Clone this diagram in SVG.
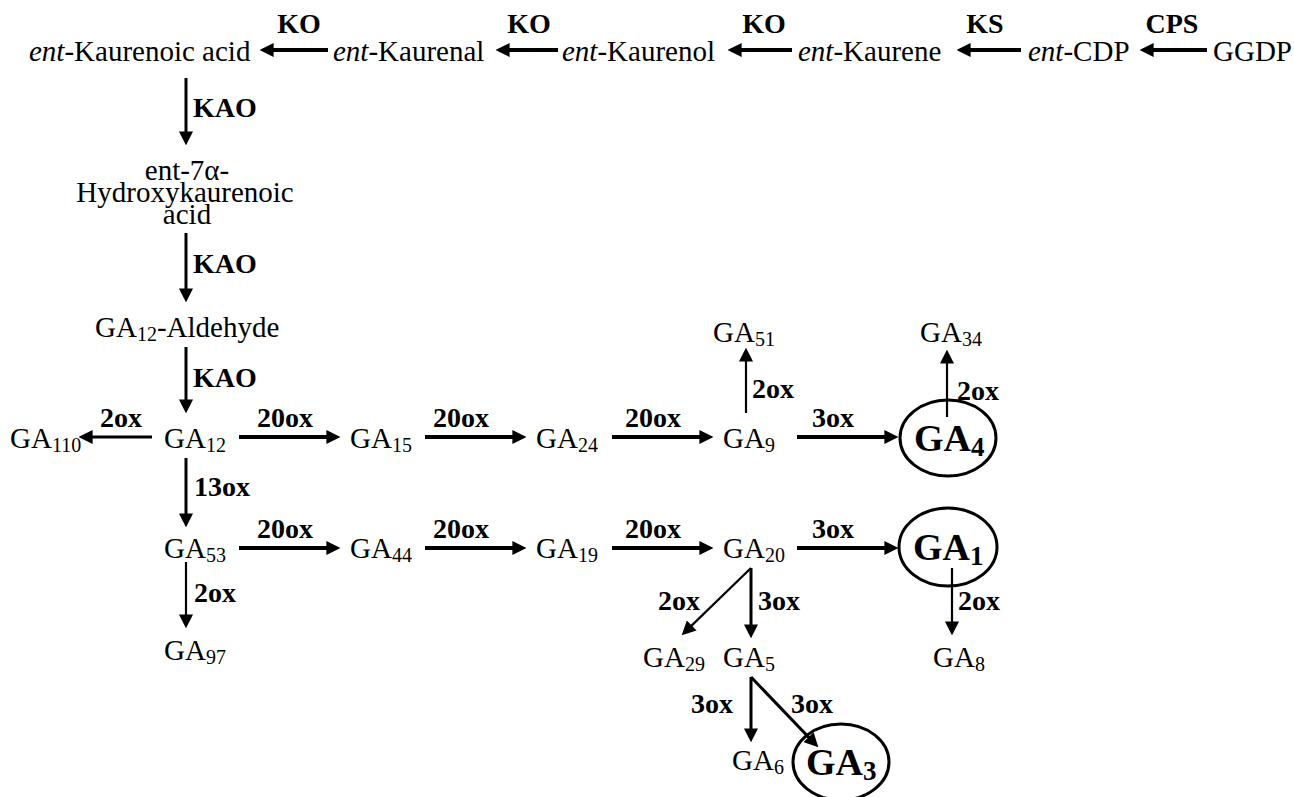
<svg xmlns="http://www.w3.org/2000/svg" width="1294" height="797" viewBox="0 0 1294 797">
  <style>
    text { font-family: "Liberation Serif", "Times New Roman", Times, "Nimbus Roman", "DejaVu Serif", serif; font-weight: normal; fill: #000; }
    .n { font-size: 29px; }
    .e { font-size: 28px; font-weight: bold; }
    .k { font-size: 38px; font-weight: bold; }
    .sub { font-size: 20px; }
    .ksub { font-size: 27px; }
    .ring { fill: none; stroke: #000; stroke-width: 3; }
    .a4 { stroke: #000; stroke-width: 4; fill: none; marker-end: url(#head); }
    .a3 { stroke: #000; stroke-width: 3; fill: none; marker-end: url(#head); }
    .a2 { stroke: #000; stroke-width: 2.2; fill: none; marker-end: url(#head); }
  </style>
  <defs>
    <marker id="head" viewBox="0 0 10 10" refX="4" refY="5" markerUnits="userSpaceOnUse" markerWidth="14" markerHeight="14" orient="auto">
      <path d="M0,0 L10,5 L0,10 z" fill="#000"/>
    </marker>
  </defs>

  <!-- reaction arrows -->
  <g id="connectors">
    <!-- upper chain, right to left -->
    <line class="a4" x1="328" y1="50" x2="268" y2="50"/>
    <line class="a4" x1="558" y1="50" x2="504" y2="50"/>
    <line class="a4" x1="792" y1="50" x2="736" y2="50"/>
    <line class="a4" x1="1021" y1="50" x2="965" y2="50"/>
    <line class="a4" x1="1207" y1="50" x2="1148" y2="50"/>
    <!-- KAO steps -->
    <line class="a3" x1="186" y1="78" x2="186" y2="137"/>
    <line class="a3" x1="186" y1="233" x2="186" y2="294"/>
    <line class="a3" x1="186" y1="347" x2="186" y2="405"/>
    <!-- non-13-hydroxylation row -->
    <line class="a3" x1="152" y1="437" x2="87" y2="437"/>
    <line class="a4" x1="239" y1="437" x2="332" y2="437"/>
    <line class="a4" x1="425" y1="437" x2="518" y2="437"/>
    <line class="a4" x1="612" y1="437" x2="705" y2="437"/>
    <line class="a4" x1="797" y1="437" x2="890" y2="437"/>
    <line class="a2" x1="746" y1="413" x2="746" y2="356"/>
    <line class="a2" x1="947" y1="417" x2="947" y2="358"/>
    <!-- 13-hydroxylation -->
    <line class="a3" x1="186" y1="458" x2="186" y2="519"/>
    <!-- early 13-hydroxylation row -->
    <line class="a4" x1="239" y1="548" x2="332" y2="548"/>
    <line class="a4" x1="425" y1="548" x2="518" y2="548"/>
    <line class="a4" x1="612" y1="548" x2="705" y2="548"/>
    <line class="a4" x1="797" y1="548" x2="890" y2="548"/>
    <line class="a2" x1="186" y1="562" x2="186" y2="620"/>
    <line class="a2" x1="751" y1="568" x2="687.7" y2="629.4"/>
    <line class="a3" x1="751" y1="568" x2="751" y2="630"/>
    <line class="a2" x1="952" y1="568" x2="952" y2="627"/>
    <line class="a3" x1="751" y1="677" x2="751" y2="734"/>
    <line class="a3" x1="751" y1="677" x2="812.5" y2="741.2"/>
  </g>

  <!-- enzyme labels -->
  <g id="enzymes">
    <text class="e" x="299" y="33" text-anchor="middle">KO</text>
    <text class="e" x="529" y="33" text-anchor="middle">KO</text>
    <text class="e" x="764" y="33" text-anchor="middle">KO</text>
    <text class="e" x="985" y="33" text-anchor="middle">KS</text>
    <text class="e" x="1172" y="33" text-anchor="middle">CPS</text>
    <text class="e" x="193" y="117">KAO</text>
    <text class="e" x="193" y="273">KAO</text>
    <text class="e" x="193" y="387">KAO</text>
    <text class="e" x="121" y="427" text-anchor="middle">2ox</text>
    <text class="e" x="285" y="427" text-anchor="middle">20ox</text>
    <text class="e" x="461" y="427" text-anchor="middle">20ox</text>
    <text class="e" x="653" y="427" text-anchor="middle">20ox</text>
    <text class="e" x="833" y="427" text-anchor="middle">3ox</text>
    <text class="e" x="752" y="398">2ox</text>
    <text class="e" x="957" y="400">2ox</text>
    <text class="e" x="194" y="496">13ox</text>
    <text class="e" x="285" y="538" text-anchor="middle">20ox</text>
    <text class="e" x="461" y="538" text-anchor="middle">20ox</text>
    <text class="e" x="653" y="538" text-anchor="middle">20ox</text>
    <text class="e" x="833" y="538" text-anchor="middle">3ox</text>
    <text class="e" x="194" y="602">2ox</text>
    <text class="e" x="679" y="610" text-anchor="middle">2ox</text>
    <text class="e" x="758" y="610">3ox</text>
    <text class="e" x="958" y="610">2ox</text>
    <text class="e" x="712" y="713" text-anchor="middle">3ox</text>
    <text class="e" x="812" y="713" text-anchor="middle">3ox</text>
  </g>

  <!-- upper chain -->
  <g id="ent-kaurenoic-acid"><text class="n" x="29" y="61"><tspan font-style="italic">ent</tspan>-Kaurenoic acid</text></g>
  <g id="ent-kaurenal"><text class="n" x="333" y="61"><tspan font-style="italic">ent</tspan>-Kaurenal</text></g>
  <g id="ent-kaurenol"><text class="n" x="562" y="61"><tspan font-style="italic">ent</tspan>-Kaurenol</text></g>
  <g id="ent-kaurene"><text class="n" x="798" y="61"><tspan font-style="italic">ent</tspan>-Kaurene</text></g>
  <g id="ent-cdp"><text class="n" x="1028" y="61"><tspan font-style="italic">ent</tspan>-CDP</text></g>
  <g id="ggdp"><text class="n" x="1213" y="61">GGDP</text></g>

  <g id="hydroxykaurenoic-acid">
    <text class="n" x="187" y="180" text-anchor="middle">ent-7α-</text>
    <text class="n" x="185" y="202" text-anchor="middle">Hydroxykaurenoic</text>
    <text class="n" x="187" y="224" text-anchor="middle">acid</text>
  </g>
  <g id="ga12-aldehyde"><text class="n" x="95" y="337">GA<tspan class="sub" dy="4">12</tspan><tspan dy="-4">-Aldehyde</tspan></text></g>

  <!-- gibberellins -->
  <g id="ga110"><text class="n" x="10" y="448">GA<tspan class="sub" dy="4">110</tspan></text></g>
  <g id="ga12"><text class="n" x="164" y="448">GA<tspan class="sub" dy="4">12</tspan></text></g>
  <g id="ga15"><text class="n" x="350" y="448">GA<tspan class="sub" dy="4">15</tspan></text></g>
  <g id="ga24"><text class="n" x="536" y="448">GA<tspan class="sub" dy="4">24</tspan></text></g>
  <g id="ga9"><text class="n" x="723" y="448">GA<tspan class="sub" dy="4">9</tspan></text></g>
  <g id="ga51"><text class="n" x="713" y="342">GA<tspan class="sub" dy="4">51</tspan></text></g>
  <g id="ga34"><text class="n" x="920" y="342">GA<tspan class="sub" dy="4">34</tspan></text></g>
  <g id="ga4">
    <ellipse class="ring" cx="948" cy="438" rx="48" ry="38"/>
    <text class="k" x="914" y="451">GA<tspan class="ksub" dy="5">4</tspan></text>
  </g>

  <g id="ga53"><text class="n" x="164" y="558">GA<tspan class="sub" dy="4">53</tspan></text></g>
  <g id="ga44"><text class="n" x="350" y="558">GA<tspan class="sub" dy="4">44</tspan></text></g>
  <g id="ga19"><text class="n" x="536" y="558">GA<tspan class="sub" dy="4">19</tspan></text></g>
  <g id="ga20"><text class="n" x="723" y="558">GA<tspan class="sub" dy="4">20</tspan></text></g>
  <g id="ga1">
    <ellipse class="ring" cx="948" cy="547" rx="49" ry="39"/>
    <text class="k" x="913" y="560">GA<tspan class="ksub" dy="5">1</tspan></text>
  </g>

  <g id="ga97"><text class="n" x="164" y="660">GA<tspan class="sub" dy="4">97</tspan></text></g>
  <g id="ga29"><text class="n" x="643" y="667">GA<tspan class="sub" dy="4">29</tspan></text></g>
  <g id="ga5"><text class="n" x="723" y="667">GA<tspan class="sub" dy="4">5</tspan></text></g>
  <g id="ga8"><text class="n" x="933" y="667">GA<tspan class="sub" dy="4">8</tspan></text></g>
  <g id="ga6"><text class="n" x="732" y="770">GA<tspan class="sub" dy="4">6</tspan></text></g>
  <g id="ga3">
    <ellipse class="ring" cx="841" cy="762" rx="48" ry="38"/>
    <text class="k" x="806" y="775">GA<tspan class="ksub" dy="5">3</tspan></text>
  </g>
</svg>
